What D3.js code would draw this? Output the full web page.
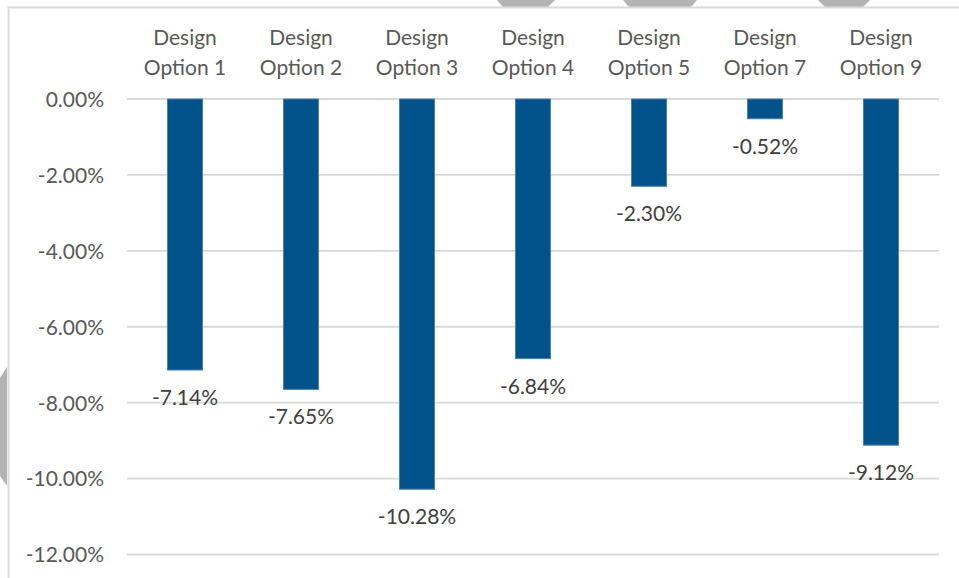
<!DOCTYPE html>
<html>
<head>
<meta charset="utf-8">
<script src="https://cdn.jsdelivr.net/npm/d3@7"></script>
<style>
  html, body { margin: 0; padding: 0; background: #ffffff; }
  svg { display: block; }
</style>
</head>
<body>
<svg id="chart" width="959" height="578"></svg>
<script>
const categoriesLine1 = ["Design", "Design", "Design", "Design", "Design", "Design", "Design"];
const categoriesLine2 = ["Option 1", "Option 2", "Option 3", "Option 4", "Option 5", "Option 7", "Option 9"];
const values = [-7.14, -7.65, -10.28, -6.84, -2.30, -0.52, -9.12];
const yTicks = [0, -2, -4, -6, -8, -10, -12];

const svg = d3.select("#chart");
const W = 959, H = 578;
const FONT = "Lato, 'Open Sans', sans-serif";
const FS = 21;
const pct = d => d.toFixed(2) + "%";

// decorative background shapes (artifacts of the original screenshot)
const deco = [
  [[497,0],[555,0],[548,7],[503,7]],
  [[623,0],[697,0],[691,7],[629,7]],
  [[818,0],[870,0],[863,7],[825,7]],
  [[0,378],[7,367],[7,486],[0,476]]
];
svg.selectAll("polygon.deco").data(deco).join("polygon")
  .attr("class","deco")
  .attr("points", d => d.map(p => p.join(",")).join(" "))
  .attr("fill", "#b3b3b3");

// chart frame
svg.append("path")
  .attr("d", `M8.5,${H} V7.5 H${W}`)
  .attr("fill","none").attr("stroke","#d9d9d9").attr("stroke-width",2);

const idx = d3.range(values.length);
const x = d3.scaleBand().domain(idx).range([127, 939]).paddingInner(0.69).paddingOuter(0.345);
const y = d3.scaleLinear().domain([-12, 0]).range([554.5, 99]);

// gridlines
svg.append("g").selectAll("line").data(yTicks).join("line")
  .attr("x1", 127).attr("x2", 939)
  .attr("y1", d => y(d)).attr("y2", d => y(d))
  .attr("stroke", "#d9d9d9").attr("stroke-width", 1.8);

// y axis labels
const yAxis = d3.axisLeft(y).tickValues(yTicks).tickFormat(pct).tickSize(0).tickPadding(0);
const ya = svg.append("g").attr("transform", "translate(104,0)").call(yAxis);
ya.select(".domain").remove();
ya.selectAll("text").attr("font-family", FONT).attr("font-size", FS).attr("fill", "#595959").attr("dy", "0.35em");

// bars
svg.append("g").selectAll("rect").data(values).join("rect")
  .attr("x", (d, i) => x(i) + 0.5)
  .attr("width", x.bandwidth() - 1)
  .attr("y", d => y(0))
  .attr("height", d => y(d) - y(0))
  .attr("fill", "#02538B")
  .attr("stroke", "#4a7fb0").attr("stroke-width", 1);

// data labels
svg.append("g").selectAll("text").data(values).join("text")
  .attr("x", (d, i) => x(i) + x.bandwidth() / 2)
  .attr("y", d => y(d) + 35)
  .attr("text-anchor", "middle")
  .attr("font-family", FONT).attr("font-size", FS).attr("fill", "#404040")
  .text(pct);

// category labels (top)
const cat = svg.append("g").selectAll("text").data(idx).join("text")
  .attr("text-anchor", "middle")
  .attr("font-family", FONT).attr("font-size", FS).attr("fill", "#595959");
cat.append("tspan").attr("x", i => x(i) + x.bandwidth() / 2).attr("y", 45).text(i => categoriesLine1[i]);
cat.append("tspan").attr("x", i => x(i) + x.bandwidth() / 2).attr("y", 75).text(i => categoriesLine2[i]);
</script>
</body>
</html>
